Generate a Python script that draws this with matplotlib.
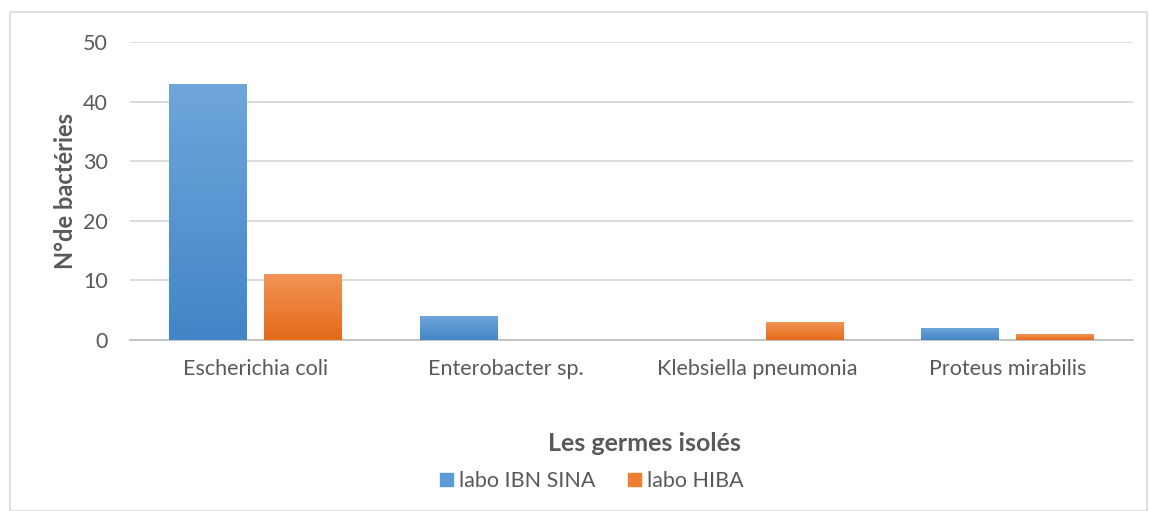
import matplotlib.pyplot as plt
import numpy as np
from matplotlib.colors import LinearSegmentedColormap
from matplotlib.patches import Rectangle

# données
germes = ["Escherichia coli", "Enterobacter sp.", "Klebsiella pneumonia", "Proteus mirabilis"]
ibn_sina = [43, 4, 0, 2]
hiba = [11, 0, 3, 1]
series_names = ["labo IBN SINA", "labo HIBA"]
y_ticks = [0, 10, 20, 30, 40, 50]

plt.rcParams['font.family'] = ['Lato', 'DejaVu Sans']
txt = '#595959'
grid_col = '#D9D9D9'

fig = plt.figure(figsize=(11.49, 5.11), dpi=100)
ax = fig.add_axes([130/1149, (511-340)/511, (1133-130)/1149, (340-42)/511])

x = np.arange(len(germes))
w = 0.31
off = 0.19

blue_cm = LinearSegmentedColormap.from_list('b', ['#4285C6', '#6FA6DC'])
orange_cm = LinearSegmentedColormap.from_list('o', ['#E46A18', '#F29457'])
grad = np.linspace(0, 1, 256).reshape(-1, 1)

def gradient_bars(bars, cmap):
    for b in bars:
        h = b.get_height()
        if h <= 0:
            continue
        b.set_facecolor('none')
        x0 = b.get_x()
        im = ax.imshow(grad, cmap=cmap, aspect='auto', origin='lower',
                       extent=[x0, x0 + b.get_width(), 0, h],
                       vmin=0, vmax=1, zorder=3)
        im.set_clip_path(b)

b1 = ax.bar(x - off, ibn_sina, w, color='#5B9BD5', zorder=3, linewidth=0)
b2 = ax.bar(x + off, hiba, w, color='#ED7D31', zorder=3, linewidth=0)
gradient_bars(b1, blue_cm)
gradient_bars(b2, orange_cm)

ax.set_xlim(-0.5, len(germes) - 0.5)
ax.set_ylim(0, 50)
ax.set_yticks(y_ticks)
ax.set_xticks(x)
ax.set_xticklabels(germes)
ax.tick_params(axis='both', length=0, labelsize=15.5, colors=txt)
ax.tick_params(axis='x', pad=14)
ax.tick_params(axis='y', pad=16)
ax.yaxis.grid(True, color=grid_col, linewidth=1.3, zorder=0)
ax.set_axisbelow(True)
for s in ['top', 'right', 'left']:
    ax.spines[s].set_visible(False)
ax.spines['bottom'].set_color('#BFBFBF')
ax.spines['bottom'].set_linewidth(1.3)

ax.set_ylabel("N°de bactéries", fontsize=17, fontweight='bold', color=txt, labelpad=4)
fig.text(644/1149, 1 - 443/511, "Les germes isolés", fontsize=18, fontweight='bold',
         color=txt, ha='center', va='center')

handles = [Rectangle((0, 0), 1, 1, color='#5B9BD5'), Rectangle((0, 0), 1, 1, color='#ED7D31')]
leg = fig.legend(handles, series_names, loc='center', bbox_to_anchor=(592/1149, 1 - 481/511),
                 ncol=2, frameon=False, fontsize=15.5, handlelength=0.6, handleheight=0.6,
                 handletextpad=0.3, columnspacing=1.5)
for t in leg.get_texts():
    t.set_color(txt)

# cadre du graphique
fig.patches.append(Rectangle((10/1149, 0), 1137/1149, 1 - 12/511, transform=fig.transFigure,
                             fill=False, edgecolor=grid_col, linewidth=1.2))

fig.savefig("out.png", dpi=100)
